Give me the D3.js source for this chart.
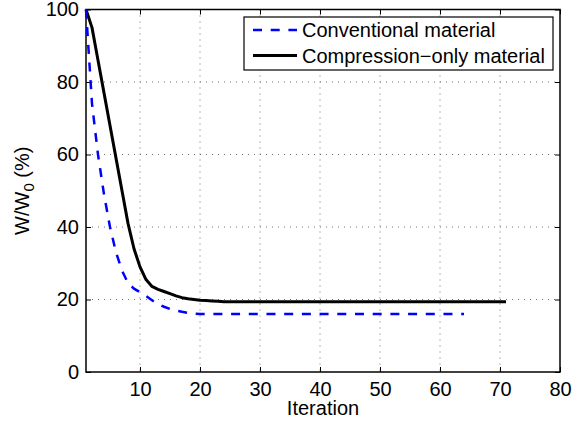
<!DOCTYPE html>
<html>
<head>
<meta charset="utf-8">
<script src="https://cdn.jsdelivr.net/npm/d3@7"></script>
<style>
  body { margin: 0; background: #fff; }
  svg { display: block; font-family: "Liberation Sans", Arial, Helvetica, sans-serif; }
</style>
</head>
<body>
<svg id="chart" width="572" height="424"></svg>
<script>
// values, iteration starts at 1
const conventional = [
  100, 74, 60, 49, 40, 33, 28, 24.5, 23, 22,
  21, 19.8, 18.8, 18, 17.4, 17, 16.6, 16.3, 16.1, 16,
  16, 16, 16, 16, 16, 16, 16, 16, 16, 16,
  16, 16, 16, 16, 16, 16, 16, 16, 16, 16,
  16, 16, 16, 16, 16, 16, 16, 16, 16, 16,
  16, 16, 16, 16, 16, 16, 16, 16, 16, 16,
  16, 16, 16, 16
];
const compressionOnly = [
  100, 95, 86, 77, 68, 59, 50, 41, 34, 29,
  25.5, 23.6, 22.8, 22.2, 21.6, 21, 20.5, 20.2, 20, 19.8,
  19.7, 19.6, 19.5, 19.4, 19.4, 19.4, 19.4, 19.4, 19.4, 19.4,
  19.4, 19.4, 19.4, 19.4, 19.4, 19.4, 19.4, 19.4, 19.4, 19.4,
  19.4, 19.4, 19.4, 19.4, 19.4, 19.4, 19.4, 19.4, 19.4, 19.4,
  19.4, 19.4, 19.4, 19.4, 19.4, 19.4, 19.4, 19.4, 19.4, 19.4,
  19.4, 19.4, 19.4, 19.4, 19.4, 19.4, 19.4, 19.4, 19.4, 19.4,
  19.4
];
const xTicks = [10, 20, 30, 40, 50, 60, 70, 80];
const yTicks = [0, 20, 40, 60, 80, 100];
const legendLabels = ["Conventional material", "Compression\u2212only material"];

const svg = d3.select("#chart");
const m = { left: 86, right: 560, top: 9.5, bottom: 372 };
const fontSize = 20;

const x = d3.scaleLinear().domain([1, 80]).range([m.left, m.right]);
const y = d3.scaleLinear().domain([0, 100]).range([m.bottom, m.top]);

// dotted grid
const grid = svg.append("g")
  .attr("stroke", "#000")
  .attr("stroke-width", 1)
  .attr("stroke-dasharray", "1,5")
  .attr("opacity", 0.55);
grid.selectAll("line.gx")
  .data(xTicks.filter(d => d < 80))
  .join("line")
  .attr("x1", d => x(d)).attr("x2", d => x(d))
  .attr("y1", m.top).attr("y2", m.bottom);
grid.selectAll("line.gy")
  .data(yTicks.filter(d => d > 0 && d < 100))
  .join("line")
  .attr("x1", m.left).attr("x2", m.right)
  .attr("y1", d => y(d)).attr("y2", d => y(d));

// axes, ticks drawn inward like matlab
function styleAxis(g) {
  g.selectAll(".domain").remove();
  g.selectAll(".tick line").attr("stroke", "#000").attr("stroke-width", 1);
  g.selectAll("text").attr("font-size", fontSize).attr("fill", "#000")
    .attr("font-family", "Liberation Sans, Arial, sans-serif");
}
svg.append("g").attr("transform", `translate(0,${m.bottom})`)
  .call(d3.axisBottom(x).tickValues(xTicks).tickSize(-5).tickPadding(10))
  .call(styleAxis);
svg.append("g").attr("transform", `translate(0,${m.top})`)
  .call(d3.axisTop(x).tickValues(xTicks).tickSize(-5).tickFormat(""))
  .call(styleAxis);
svg.append("g").attr("transform", `translate(${m.left},0)`)
  .call(d3.axisLeft(y).tickValues(yTicks).tickSize(-5).tickPadding(7))
  .call(styleAxis);
svg.append("g").attr("transform", `translate(${m.right},0)`)
  .call(d3.axisRight(y).tickValues(yTicks).tickSize(-5).tickFormat(""))
  .call(styleAxis);

// frame
svg.append("rect")
  .attr("x", m.left).attr("y", m.top)
  .attr("width", m.right - m.left).attr("height", m.bottom - m.top)
  .attr("fill", "none").attr("stroke", "#000").attr("stroke-width", 1.5);

const line = d3.line().x((d, i) => x(i + 1)).y(d => y(d));

svg.append("path").datum(compressionOnly)
  .attr("d", line)
  .attr("fill", "none").attr("stroke", "#000").attr("stroke-width", 3)
  .attr("stroke-linejoin", "round");
svg.append("path").datum(conventional)
  .attr("d", line)
  .attr("fill", "none").attr("stroke", "#0000ff").attr("stroke-width", 2.5)
  .attr("stroke-dasharray", "9,8.7");

// axis titles
svg.append("text")
  .attr("x", (m.left + m.right) / 2).attr("y", 415)
  .attr("text-anchor", "middle").attr("font-size", fontSize)
  .text("Iteration");
const yl = svg.append("text")
  .attr("transform", `translate(29,${(m.top + m.bottom) / 2}) rotate(-90)`)
  .attr("text-anchor", "middle").attr("font-size", fontSize);
yl.append("tspan").text("W/W");
yl.append("tspan").attr("font-size", 15).attr("dy", 5).text("0");
yl.append("tspan").attr("dy", -5).text(" (%)");

// legend
const lg = svg.append("g");
lg.append("rect")
  .attr("x", 244).attr("y", 17).attr("width", 309).attr("height", 53)
  .attr("fill", "#fff").attr("stroke", "#000").attr("stroke-width", 1.2);
const styles = [
  { stroke: "#0000ff", width: 2.5, dash: "9,8.7" },
  { stroke: "#000", width: 3, dash: null }
];
legendLabels.forEach((label, i) => {
  const cy = 30 + i * 25.5;
  lg.append("line")
    .attr("x1", 253).attr("x2", 297).attr("y1", cy).attr("y2", cy)
    .attr("stroke", styles[i].stroke).attr("stroke-width", styles[i].width)
    .attr("stroke-dasharray", styles[i].dash);
  lg.append("text")
    .attr("x", 302).attr("y", cy).attr("dy", "0.35em")
    .attr("font-size", fontSize)
    .text(label);
});
</script>
</body>
</html>
